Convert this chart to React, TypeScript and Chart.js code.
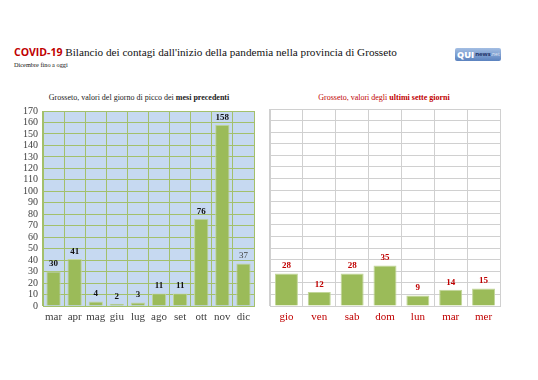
import React, { useEffect, useRef } from "react";
import { Chart, registerables } from "chart.js";

Chart.register(...registerables);

const monthLabels = ["mar", "apr", "mag", "giu", "lug", "ago", "set", "ott", "nov", "dic"];
const monthValues = [30, 41, 4, 2, 3, 11, 11, 76, 158, 37];
const dayLabels = ["gio", "ven", "sab", "dom", "lun", "mar", "mer"];
const dayValues = [28, 12, 28, 35, 9, 14, 15];
const yMax = 170;
const yStep = 10;

const SERIF2 = "'Liberation Serif', 'Times New Roman', serif";
const SANS = "'Open Sans', 'Liberation Sans', sans-serif";
const RED = "#c00000";

function makePlugin(bg: string | null, labelStyle: (i: number) => { font: string; color: string }) {
  return {
    id: "custom" + Math.floor(Math.random() * 100000),
    beforeDraw(chart: any) {
      if (!bg) return;
      const { ctx, chartArea } = chart;
      ctx.save();
      ctx.fillStyle = bg;
      ctx.fillRect(chartArea.left, chartArea.top, chartArea.right - chartArea.left, chartArea.bottom - chartArea.top);
      ctx.restore();
    },
    afterDatasetsDraw(chart: any) {
      const { ctx } = chart;
      const meta = chart.getDatasetMeta(0);
      const data = chart.data.datasets[0].data;
      ctx.save();
      ctx.textAlign = "center";
      ctx.textBaseline = "bottom";
      meta.data.forEach((bar: any, i: number) => {
        const st = labelStyle(i);
        ctx.font = st.font;
        ctx.fillStyle = st.color;
        ctx.fillText(String(data[i]), bar.x, bar.y - 3);
      });
      ctx.restore();
    },
  };
}

function BarChart(props: {
  labels: string[];
  values: number[];
  width: number;
  height: number;
  yWidth: number;
  xHeight: number;
  padRight: number;
  padTop: number;
  showY: boolean;
  gridColor: string;
  bg: string | null;
  xColor: string;
  barPct: number;
  labelStyle: (i: number) => { font: string; color: string };
}) {
  const ref = useRef<HTMLCanvasElement>(null);
  useEffect(() => {
    const chart = new Chart(ref.current!, {
      type: "bar",
      data: {
        labels: props.labels,
        datasets: [
          {
            data: props.values,
            backgroundColor: "#9bbb59",
            borderColor: "#c2d69a",
            borderWidth: 1,
            barPercentage: props.barPct,
            categoryPercentage: 1,
          },
        ],
      },
      options: {
        responsive: false,
        animation: false,
        maintainAspectRatio: false,
        layout: { padding: { top: props.padTop, right: props.padRight, left: 0, bottom: 0 } },
        plugins: { legend: { display: false }, tooltip: { enabled: false } },
        scales: {
          x: {
            grid: { color: props.gridColor, drawTicks: false, offset: true },
            border: { color: props.gridColor },
            ticks: {
              color: props.xColor,
              font: { family: SERIF2, size: 11 },
              padding: 5,
              maxRotation: 0,
              minRotation: 0,
              autoSkip: false,
            },
            afterFit: (s: any) => {
              s.height = props.xHeight;
            },
          },
          y: {
            min: 0,
            max: yMax,
            grid: { color: props.gridColor, drawTicks: false },
            border: { color: props.gridColor },
            ticks: {
              display: props.showY,
              stepSize: yStep,
              autoSkip: false,
              color: "#404040",
              font: { family: SERIF2, size: 10 },
              padding: 5,
            },
            afterFit: (s: any) => {
              s.width = props.yWidth;
            },
          },
        },
      },
      plugins: [makePlugin(props.bg, props.labelStyle)],
    } as any);
    return () => chart.destroy();
  }, []);
  return <canvas ref={ref} width={props.width} height={props.height} style={{ width: props.width, height: props.height }} />;
}

export default function App() {
  return (
    <div style={{ position: "fixed", left: 0, top: 0, width: 538, height: 380, background: "#fff", overflow: "hidden" }}>
      <div style={{ position: "absolute", left: 14, top: 44, whiteSpace: "nowrap", lineHeight: "14px" }}>
        <span style={{ fontFamily: SANS, fontWeight: 700, color: RED, fontSize: 10.5 }}>COVID-19 </span>
        <span style={{ fontFamily: SERIF2, fontSize: 11.2, color: "#111" }}>
          Bilancio dei contagi dall'inizio della pandemia nella provincia di Grosseto
        </span>
      </div>
      <div style={{ position: "absolute", left: 14, top: 61, fontFamily: SERIF2, fontSize: 6.3, color: "#111", whiteSpace: "nowrap" }}>
        Dicembre fino a oggi
      </div>
      <div
        style={{
          position: "absolute",
          left: 455,
          top: 48,
          width: 46,
          height: 13,
          borderRadius: 2,
          background: "linear-gradient(#a3bee3, #5b82bf)",
          fontFamily: SANS,
          whiteSpace: "nowrap",
          display: "flex",
          alignItems: "center",
          overflow: "hidden",
        }}
      >
        <span style={{ color: "#fff", fontWeight: 800, fontSize: 9, lineHeight: "13px", marginLeft: 2 }}>QUI</span>
        <span style={{ color: "#1f3366", fontWeight: 700, fontSize: 6, lineHeight: "13px", marginLeft: 1 }}>news</span>
        <span style={{ color: "#e0e9f6", fontSize: 5, lineHeight: "13px" }}>.net</span>
      </div>
      <div
        style={{ position: "absolute", left: 0, width: 278, top: 93, textAlign: "center", fontFamily: SERIF2, fontSize: 8, color: "#222", whiteSpace: "nowrap" }}
      >
        Grosseto, valori del giorno di picco dei <b>mesi precedenti</b>
      </div>
      <div
        style={{ position: "absolute", left: 269, width: 230, top: 93, textAlign: "center", fontFamily: SERIF2, fontSize: 8, color: RED, whiteSpace: "nowrap" }}
      >
        Grosseto, valori degli <b>ultimi sette giorni</b>
      </div>
      <div style={{ position: "absolute", left: 0, top: 100 }}>
        <BarChart
          labels={monthLabels}
          values={monthValues}
          width={265}
          height={230}
          yWidth={43}
          xHeight={24}
          padRight={11}
          padTop={10}
          showY={true}
          gridColor="#a3c06c"
          bg="#c6d9f1"
          xColor="#404040"
          barPct={0.68}
          labelStyle={(i) =>
            monthValues[i] === 37
              ? { font: `400 9px ${SERIF2}`, color: "#404040" }
              : { font: `700 9px ${SERIF2}`, color: "#111" }
          }
        />
      </div>
      <div style={{ position: "absolute", left: 265, top: 100 }}>
        <BarChart
          labels={dayLabels}
          values={dayValues}
          width={245}
          height={230}
          yWidth={5}
          xHeight={24}
          padRight={10}
          padTop={9}
          showY={false}
          gridColor="#d0d0d0"
          bg={null}
          xColor={RED}
          barPct={0.7}
          labelStyle={() => ({ font: `700 9px ${SERIF2}`, color: RED })}
        />
      </div>
    </div>
  );
}
